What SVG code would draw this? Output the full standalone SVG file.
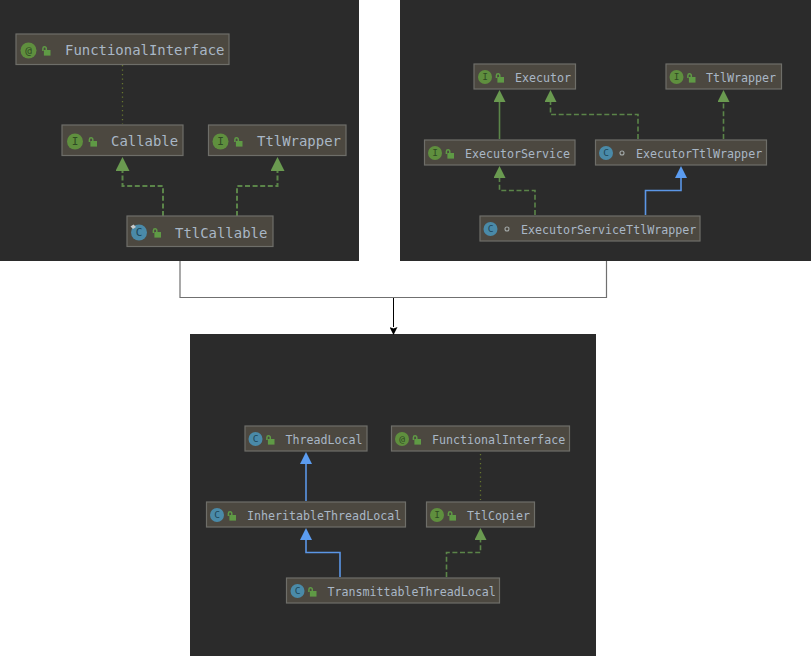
<svg xmlns="http://www.w3.org/2000/svg" width="812" height="656" viewBox="0 0 812 656">
  <style>
    .panel { fill: #2b2b2b; }
    .box { fill: #4c4840; stroke: #6e6e69; stroke-width: 1.2; }
    .name { font-family: "DejaVu Sans Mono", "Liberation Mono", monospace; fill: #a9b7c6; }
    .lg .name { font-size: 13.95px; }
    .sm .name { font-size: 11.65px; }
    .mark { font-family: "DejaVu Sans Mono", "Liberation Mono", monospace; text-anchor: middle; }
    .lg .mark { font-size: 11px; }
    .sm .mark { font-size: 9.5px; }
    .mark.i { fill: #2f4a24; }
    .mark.c { fill: #1d4658; }
    .disc-i { fill: #5f8f3e; }
    .disc-c { fill: #4a8aa8; }
    .lock { fill: #5f9a45; }
    .shackle { fill: none; stroke: #5f9a45; stroke-width: 1.5; }
    .ring { fill: none; stroke: #a3a9a8; stroke-width: 1.1; }
    .edge { fill: none; stroke-width: 2; }
    .sm-edge { stroke-width: 1.6; }
    .impl { stroke: #5b8549; stroke-dasharray: 5 2.6; }
    .solid-g { stroke: #5b8549; }
    .ext { stroke: #5b96e6; }
    .note { stroke: #66752f; stroke-width: 1.3; stroke-dasharray: 1.3 3.2; fill: none; }
    .wire { fill: none; stroke: #707070; stroke-width: 1.2; }
  </style>
  <defs>
    <marker id="g-lg" markerUnits="userSpaceOnUse" viewBox="0 -7 14 14" refX="0" refY="0" markerWidth="14" markerHeight="14" orient="auto"><path d="M0,-7 L14,0 L0,7 Z" fill="#6a9a50"/></marker>
    <marker id="g-sm" markerUnits="userSpaceOnUse" viewBox="0 -6 12 12" refX="0" refY="0" markerWidth="12" markerHeight="12" orient="auto"><path d="M0,-6 L12,0 L0,6 Z" fill="#6a9a50"/></marker>
    <marker id="b-sm" markerUnits="userSpaceOnUse" viewBox="0 -6 12 12" refX="0" refY="0" markerWidth="12" markerHeight="12" orient="auto"><path d="M0,-6 L12,0 L0,6 Z" fill="#5b9cf0"/></marker>
    <marker id="k" markerUnits="userSpaceOnUse" viewBox="0 -4 8 8" refX="0" refY="0" markerWidth="8" markerHeight="8" orient="auto"><path d="M0,-4 L8,0 L0,4 L1.5,0 Z" fill="#000"/></marker>
    <g id="padlock">
      <path class="shackle" d="M-3.6,0 V-2.6 a1.7,1.7 0 0 1 3.4,0 V-1"/>
      <rect class="lock" x="-2.6" y="-1" width="6.6" height="5.6"/>
    </g>
  </defs>

  <rect width="812" height="656" fill="#fff"/>
  <rect class="panel" x="0" y="0" width="359" height="261"/>
  <rect class="panel" x="400" y="0" width="411" height="261"/>
  <rect class="panel" x="190" y="334" width="406" height="322"/>

  <g id="connectors">
    <path class="wire" d="M180,261 V297.5 H606.5 V261"/>
    <path d="M393.5,298 V327" fill="none" stroke="#000" stroke-width="1" marker-end="url(#k)"/>

    <path class="note" d="M122.5,65 V124"/>
    <path class="edge impl" d="M163,216 V186 H122.5 V171" marker-end="url(#g-lg)"/>
    <path class="edge impl" d="M237,216 V186 H277.5 V171" marker-end="url(#g-lg)"/>

    <path class="edge sm-edge solid-g" d="M499.5,139 V102" marker-end="url(#g-sm)"/>
    <path class="edge sm-edge impl" d="M638,139 V114.5 H550.5 V102" marker-end="url(#g-sm)"/>
    <path class="edge sm-edge impl" d="M723.5,139 V102" marker-end="url(#g-sm)"/>
    <path class="edge sm-edge impl" d="M535,215 V190.5 H499.5 V178" marker-end="url(#g-sm)"/>
    <path class="edge sm-edge ext" d="M645.5,215 V190.5 H681 V178" marker-end="url(#b-sm)"/>

    <path class="edge sm-edge ext" d="M306,501 V464" marker-end="url(#b-sm)"/>
    <path class="edge sm-edge ext" d="M340,577 V552.5 H306 V540" marker-end="url(#b-sm)"/>
    <path class="edge sm-edge impl" d="M446.5,577 V552.5 H480.5 V540" marker-end="url(#g-sm)"/>
    <path class="note" d="M480.5,454 V500"/>
  </g>

  <g class="lg">
    <g id="left-functional-interface">
      <rect class="box" x="16" y="34" width="213" height="30.5"/>
      <circle class="disc-i" cx="28.5" cy="50.5" r="8"/>
      <text class="mark i" x="28.5" y="54">@</text>
      <use href="#padlock" x="46.5" y="51"/>
      <text class="name" x="65" y="55">FunctionalInterface</text>
    </g>
    <g id="left-callable">
      <rect class="box" x="62" y="125" width="121" height="30.5"/>
      <circle class="disc-i" cx="75" cy="141.5" r="8"/>
      <text class="mark i" x="75" y="145">I</text>
      <use href="#padlock" x="93" y="142"/>
      <text class="name" x="111" y="146">Callable</text>
    </g>
    <g id="left-ttl-wrapper">
      <rect class="box" x="208.5" y="125" width="137.5" height="30.5"/>
      <circle class="disc-i" cx="220.5" cy="141.5" r="8"/>
      <text class="mark i" x="220.5" y="145">I</text>
      <use href="#padlock" x="238.5" y="142"/>
      <text class="name" x="257" y="146">TtlWrapper</text>
    </g>
    <g id="left-ttl-callable">
      <rect class="box" x="127" y="216" width="146" height="30.5"/>
      <circle class="disc-c" cx="139" cy="232.5" r="8"/>
      <text class="mark c" x="139" y="236">C</text>
      <path d="M130.5,226.5 L133.5,224.5 L136,227 L133,229 Z" fill="#c8cccc"/>
      <use href="#padlock" x="157" y="233"/>
      <text class="name" x="175" y="237.5">TtlCallable</text>
    </g>
  </g>

  <g class="sm">
    <g id="right-executor">
      <rect class="box" x="474" y="64" width="101.5" height="25"/>
      <circle class="disc-i" cx="485" cy="77" r="7"/>
      <text class="mark i" x="485" y="80">I</text>
      <use href="#padlock" x="500" y="78"/>
      <text class="name" x="515" y="81.5">Executor</text>
    </g>
    <g id="right-ttl-wrapper">
      <rect class="box" x="666" y="64" width="115.5" height="25"/>
      <circle class="disc-i" cx="676.5" cy="77" r="7"/>
      <text class="mark i" x="676.5" y="80">I</text>
      <use href="#padlock" x="691.5" y="78"/>
      <text class="name" x="706" y="81.5">TtlWrapper</text>
    </g>
    <g id="right-executor-service">
      <rect class="box" x="424.5" y="140" width="150.5" height="25"/>
      <circle class="disc-i" cx="435" cy="153" r="7"/>
      <text class="mark i" x="435" y="156">I</text>
      <use href="#padlock" x="450" y="154"/>
      <text class="name" x="465" y="157.5">ExecutorService</text>
    </g>
    <g id="right-executor-ttl-wrapper">
      <rect class="box" x="595.5" y="140" width="171" height="25"/>
      <circle class="disc-c" cx="606" cy="153" r="7"/>
      <text class="mark c" x="606" y="156">C</text>
      <circle class="ring" cx="622" cy="153" r="2"/>
      <text class="name" x="636" y="157.5">ExecutorTtlWrapper</text>
    </g>
    <g id="right-executor-service-ttl-wrapper">
      <rect class="box" x="480" y="216" width="220" height="25"/>
      <circle class="disc-c" cx="490.5" cy="229" r="7"/>
      <text class="mark c" x="490.5" y="232">C</text>
      <circle class="ring" cx="507" cy="229" r="2"/>
      <text class="name" x="521" y="233.5">ExecutorServiceTtlWrapper</text>
    </g>

    <g id="bottom-thread-local">
      <rect class="box" x="245" y="426" width="122" height="25"/>
      <circle class="disc-c" cx="255.5" cy="439" r="7"/>
      <text class="mark c" x="255.5" y="442">C</text>
      <use href="#padlock" x="270.5" y="440"/>
      <text class="name" x="285.5" y="443.5">ThreadLocal</text>
    </g>
    <g id="bottom-functional-interface">
      <rect class="box" x="391.5" y="426" width="178" height="25"/>
      <circle class="disc-i" cx="402" cy="439" r="7"/>
      <text class="mark i" x="402" y="442">@</text>
      <use href="#padlock" x="417" y="440"/>
      <text class="name" x="432" y="443.5">FunctionalInterface</text>
    </g>
    <g id="bottom-inheritable-thread-local">
      <rect class="box" x="206.5" y="502" width="199" height="25"/>
      <circle class="disc-c" cx="217" cy="515" r="7"/>
      <text class="mark c" x="217" y="518">C</text>
      <use href="#padlock" x="232" y="516"/>
      <text class="name" x="247" y="519.5">InheritableThreadLocal</text>
    </g>
    <g id="bottom-ttl-copier">
      <rect class="box" x="426.5" y="502" width="108" height="25"/>
      <circle class="disc-i" cx="437" cy="515" r="7"/>
      <text class="mark i" x="437" y="518">I</text>
      <use href="#padlock" x="452" y="516"/>
      <text class="name" x="467" y="519.5">TtlCopier</text>
    </g>
    <g id="bottom-transmittable-thread-local">
      <rect class="box" x="286.5" y="578" width="213" height="25"/>
      <circle class="disc-c" cx="297.5" cy="591" r="7"/>
      <text class="mark c" x="297.5" y="594">C</text>
      <use href="#padlock" x="312.5" y="592"/>
      <text class="name" x="327.5" y="595.5">TransmittableThreadLocal</text>
    </g>
  </g>
</svg>
